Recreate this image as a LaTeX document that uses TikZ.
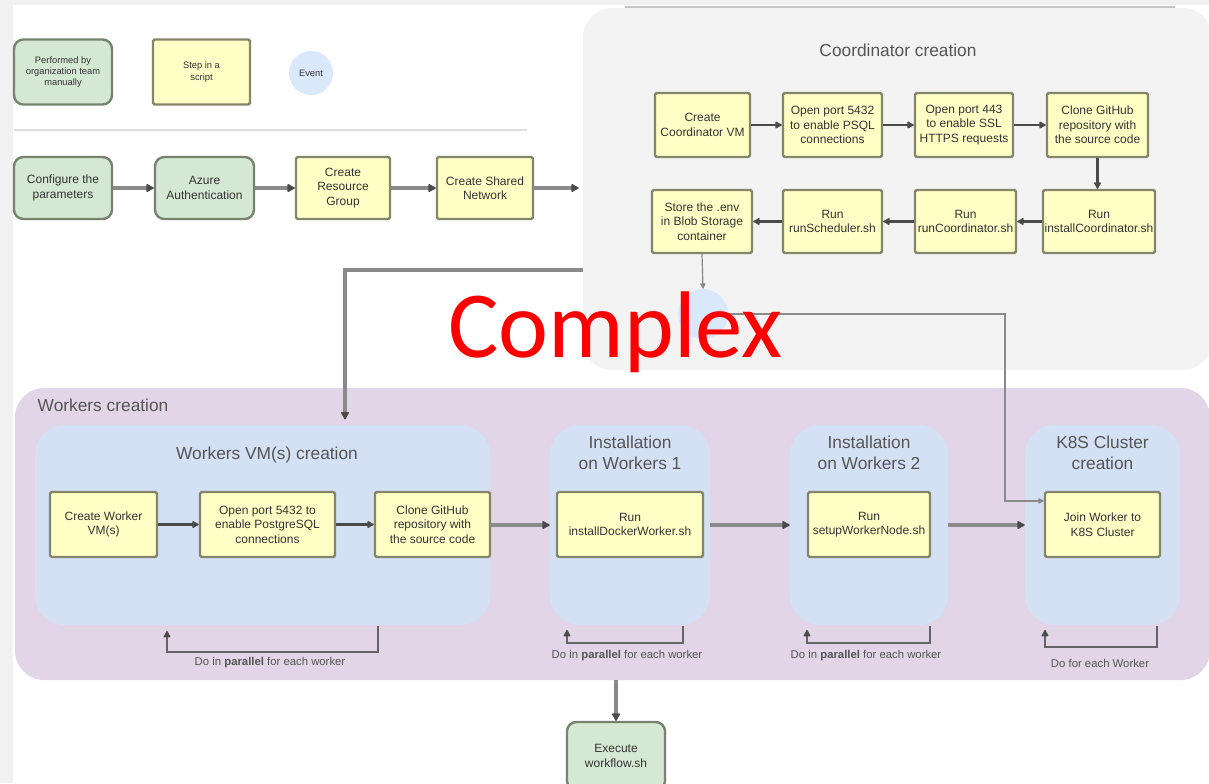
\documentclass[tikz,border=0pt]{standalone}
\usepackage{fontspec}
\setmainfont{Liberation Sans}
\newfontfamily\tagfont{Carlito}
\usetikzlibrary{arrows.meta,calc}

\definecolor{gfill}{HTML}{D5E8D4}
\definecolor{gline}{HTML}{76846F}
\definecolor{yfill}{HTML}{FFFFC6}
\definecolor{yline}{HTML}{85856A}
\definecolor{panelgray}{HTML}{F3F3F3}
\definecolor{panelpurple}{HTML}{E1D5E7}
\definecolor{panelblue}{HTML}{D4E1F5}
\definecolor{eventblue}{HTML}{DAE8FC}
\definecolor{titlegray}{HTML}{555555}
\definecolor{textdark}{HTML}{333333}
\definecolor{wiregray}{HTML}{8A8A8A}
\definecolor{tipgray}{HTML}{4A4A4A}
\definecolor{stripgray}{HTML}{F1F1F1}

\newcommand\pxu{0.75pt}

\tikzset{
  wh/.style 2 args={minimum width=#1*\pxu, minimum height=#2*\pxu},
  boxfont/.style={font=\fontsize{9}{10.8}\selectfont, text=textdark},
  gbox/.style={draw=gline, fill=gfill, line width=1.8pt, rounded corners=7pt,
    align=center, inner sep=1pt, boxfont},
  ybox/.style={draw=yline, fill=yfill, line width=1.8pt, rounded corners=1.2pt,
    align=center, inner sep=1pt, boxfont},
  panel/.style={fill=#1, draw=none, rounded corners=22pt, inner sep=0pt},
  ptitle/.style={font=\fontsize{13}{15.5}\selectfont, text=titlegray, align=center},
  conn/.style={draw=wiregray, line width=2.6pt,
    -{Latex[round,length=7pt,width=7.5pt,color=tipgray]}},
  connthin/.style={draw=tipgray, line width=1.6pt,
    -{Latex[round,length=6pt,width=6.5pt,color=tipgray]}},
  hairline/.style={draw=wiregray, line width=0.9pt,
    -{Latex[round,length=5pt,width=5pt,color=wiregray]}},
  looparrow/.style={draw=tipgray!85, line width=1.8pt,
    -{Latex[round,length=6pt,width=6.5pt,color=tipgray]}},
  looplabel/.style={font=\fontsize{8.5}{10}\selectfont, text=titlegray},
}

\begin{document}
\begin{tikzpicture}[x=0.75pt,y=-0.75pt]
\useasboundingbox (0,0) rectangle (1209,783);
\clip (0,0) rectangle (1209,783);

% page background and side strips
\fill[white] (0,0) rectangle (1209,783);
\fill[stripgray] (0,0) rectangle (13,783);
\fill[stripgray] (0,0) rectangle (1209,5);

% ---------- legend ----------
\node[gbox, wh={98}{65}, font=\fontsize{7}{8.4}\selectfont] (lg) at (63,72)
  {Performed by\\organization team\\manually};
\node[ybox, wh={97}{65}, font=\fontsize{7}{8.4}\selectfont] (ly) at (201.5,72)
  {Step in a\\script};
\node[circle, fill=eventblue, minimum size=44*\pxu, inner sep=0pt,
  font=\fontsize{7}{8.4}\selectfont, text=textdark] (lc) at (311,73) {Event};
\draw[gray!25, line width=1.4pt] (14,130) -- (527,130);

% ---------- coordinator panel ----------
\node[panel=panelgray, wh={629}{362}] (coord) at (897.5,189) {};
\draw[gray!45, line width=2pt] (625,7) -- (1175,7);
\node[ptitle] (coordtitle) at (898,50) {Coordinator creation};

\node[ybox, wh={95}{64}]  (c1) at (702.5,125) {Create\\Coordinator VM};
\node[ybox, wh={99}{64}]  (c2) at (832.5,125) {Open port 5432\\to enable PSQL\\connections};
\node[ybox, wh={98}{64}]  (c3) at (964,125)   {Open port 443\\to enable SSL\\HTTPS requests};
\node[ybox, wh={101}{64}] (c4) at (1097.5,125) {Clone GitHub\\repository with\\the source code};
\node[ybox, wh={112}{63}] (c8) at (1099,221.5) {Run\\installCoordinator.sh};
\node[ybox, wh={101}{63}] (c7) at (965.5,221.5) {Run\\runCoordinator.sh};
\node[ybox, wh={99}{63}]  (c6) at (832.5,221.5) {Run\\runScheduler.sh};
\node[ybox, wh={100}{63}] (c5) at (702,221.5) {Store the .env\\in Blob Storage\\container};
\node[circle, fill=eventblue, minimum size=50*\pxu, inner sep=0pt] (ev) at (703,314) {};

\draw[connthin] (c1) -- (c2);
\draw[connthin] (c2) -- (c3);
\draw[connthin] (c3) -- (c4);
\draw[connthin] (c4.south) -- (c4.south |- c8.north);
\draw[connthin] (c8) -- (c7);
\draw[connthin] (c7) -- (c6);
\draw[connthin] (c6) -- (c5);
\draw[hairline] (c5.south) -- (ev.north);

% ---------- preparation row ----------
\node[gbox, wh={98}{62}] (prm) at (63,188)    {Configure the\\parameters};
\node[gbox, wh={99}{62}] (auth) at (204.5,188) {Azure\\Authentication};
\node[ybox, wh={94}{62}] (rg) at (343,188)     {Create\\Resource\\Group};
\node[ybox, wh={96}{62}] (net) at (485,188)    {Create Shared\\Network};

\draw[conn] (prm) -- (auth);
\draw[conn] (auth) -- (rg);
\draw[conn] (rg) -- (net);
\draw[conn, shorten >=3pt] (net) -- (coord.west |- net.east);

% ---------- workers panel ----------
\node[panel=panelpurple, wh={1195}{292}] (wc) at (612.5,534) {};
\node[ptitle, anchor=west] (wctitle) at (33,405) {Workers creation};

\node[panel=panelblue, wh={455}{200}] (wvm) at (262.5,525) {};
\node[panel=panelblue, wh={160}{200}] (in1) at (630,525) {};
\node[panel=panelblue, wh={158}{200}] (in2) at (869,525) {};
\node[panel=panelblue, wh={155}{200}] (k8s) at (1102.5,525) {};

\node[ptitle] (wvmtitle) at (267,455) {Workers VM(s) creation};
\node[ptitle] (in1title) at (630,453) {Installation\\on Workers 1};
\node[ptitle] (in2title) at (869,453) {Installation\\on Workers 2};
\node[ptitle] (k8stitle) at (1102.5,453) {K8S Cluster\\creation};

\node[ybox, wh={107}{65}] (w1) at (103.5,524.5) {Create Worker\\VM(s)};
\node[ybox, wh={135}{65}] (w2) at (267.5,524.5) {Open port 5432 to\\enable PostgreSQL\\connections};
\node[ybox, wh={115}{65}] (w3) at (432.5,524.5) {Clone GitHub\\repository with\\the source code};
\node[ybox, wh={146}{65}] (i1) at (630,524.5) {Run\\installDockerWorker.sh};
\node[ybox, wh={122}{65}] (i2) at (869,524.5) {Run\\setupWorkerNode.sh};
\node[ybox, wh={115}{65}] (jn) at (1102.5,524.5) {Join Worker to\\K8S Cluster};

\draw[connthin] (w1) -- (w2);
\draw[connthin] (w2) -- (w3);
\draw[conn] (wvm) -- (in1);
\draw[conn] (in1) -- (in2);
\draw[conn] (in2) -- (k8s);

% coordinator hands over to the workers
\coordinate (bend) at (345,270);
\draw[conn, shorten >=4pt] (coord.west |- bend) -- (bend) -- (bend |- wvm.north);

% event signals the cluster join
\coordinate (drop) at (1005,320);
\coordinate (kin) at ($(jn.north west)!0.15!(jn.south west)$);
\draw[hairline] (ev.east) -- (drop |- ev.east) -- (drop |- kin) -- (kin);

% repetition loops under each stage
\draw[looparrow] (378,626) -- (378,652) -- (167,652) -- (167,631);
\node[looplabel] (wvmloop) at (270,663) {Do in \textbf{parallel} for each worker};
\draw[looparrow] (683,626) -- (683,643) -- (567,643) -- (567,630);
\node[looplabel] (in1loop) at (627,656) {Do in \textbf{parallel} for each worker};
\draw[looparrow] (930,626) -- (930,643) -- (807,643) -- (807,630);
\node[looplabel] (in2loop) at (866,656) {Do in \textbf{parallel} for each worker};
\draw[looparrow] (1157,626) -- (1157,647) -- (1045,647) -- (1045,630);
\node[looplabel] (k8sloop) at (1100,663) {Do for each Worker};

% final step
\node[gbox, wh={98}{68}] (ex) at (616,756) {Execute\\workflow.sh};
\draw[conn] (wc.south -| ex.north) -- (ex.north);

% tag
\node[text=red, font=\tagfont\fontsize{71}{71}\selectfont, anchor=base, inner sep=0pt]
  (tag) at (615.5,357) {Complex};
\end{tikzpicture}
\end{document}
